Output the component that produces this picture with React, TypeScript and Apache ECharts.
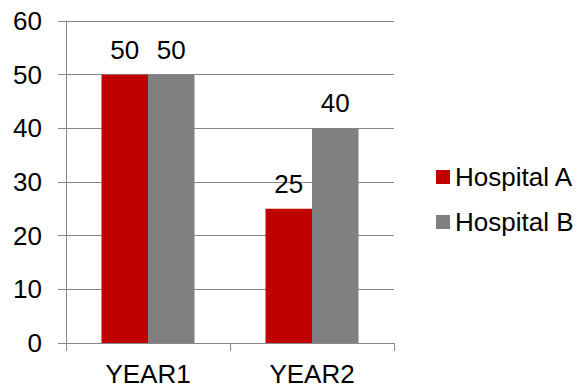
import React, { useEffect, useRef } from "react";
import * as echarts from "echarts";

const categories = ["YEAR1", "YEAR2"];
const hospitalA = [50, 25];
const hospitalB = [50, 40];
const seriesNames = ["Hospital A", "Hospital B"];
const colors = ["#C00000", "#808080"];

export default function App() {
  const ref = useRef<HTMLDivElement>(null);
  useEffect(() => {
    if (!ref.current) return;
    const chart = echarts.init(ref.current, undefined, { renderer: "svg" });
    const font = "'Liberation Sans', Arial, sans-serif";
    const lineColor = "#888888";
    const fs = 26;
    chart.setOption({
      animation: false,
      textStyle: { fontFamily: font },
      grid: { left: 66, right: 187, top: 21, bottom: 45, containLabel: false },
      legend: {
        orient: "vertical",
        left: 431,
        top: 159,
        itemWidth: 14,
        itemHeight: 14,
        itemGap: 19,
        icon: "rect",
        textStyle: { fontSize: fs, fontFamily: font, color: "#000", lineHeight: 26 },
        data: seriesNames,
      },
      xAxis: {
        type: "category",
        data: categories,
        axisLine: { lineStyle: { color: lineColor, width: 1 } },
        axisTick: { show: true, length: 8, inside: false, lineStyle: { color: lineColor } },
        axisLabel: { fontSize: fs, color: "#000", margin: 18, fontFamily: font },
      },
      yAxis: {
        type: "value",
        min: 0,
        max: 60,
        interval: 10,
        axisLine: { show: true, lineStyle: { color: lineColor, width: 1 } },
        axisTick: { show: true, length: 8, inside: false, lineStyle: { color: lineColor } },
        splitLine: { show: true, lineStyle: { color: lineColor, width: 1 } },
        axisLabel: { fontSize: fs, color: "#000", margin: 24, fontFamily: font },
      },
      series: [
        {
          name: seriesNames[0],
          type: "bar",
          data: hospitalA,
          barWidth: 46.5,
          barGap: "0%",
          itemStyle: { color: colors[0] },
          label: { show: true, position: "top", distance: 12, fontSize: fs, color: "#000", fontFamily: font },
        },
        {
          name: seriesNames[1],
          type: "bar",
          data: hospitalB,
          barWidth: 46.5,
          barGap: "0%",
          itemStyle: { color: colors[1] },
          label: { show: true, position: "top", distance: 12, fontSize: fs, color: "#000", fontFamily: font },
        },
      ],
    });
    return () => chart.dispose();
  }, []);
  return <div ref={ref} style={{ width: 581, height: 388, position: "absolute", left: 0, top: 0 }} />;
}
